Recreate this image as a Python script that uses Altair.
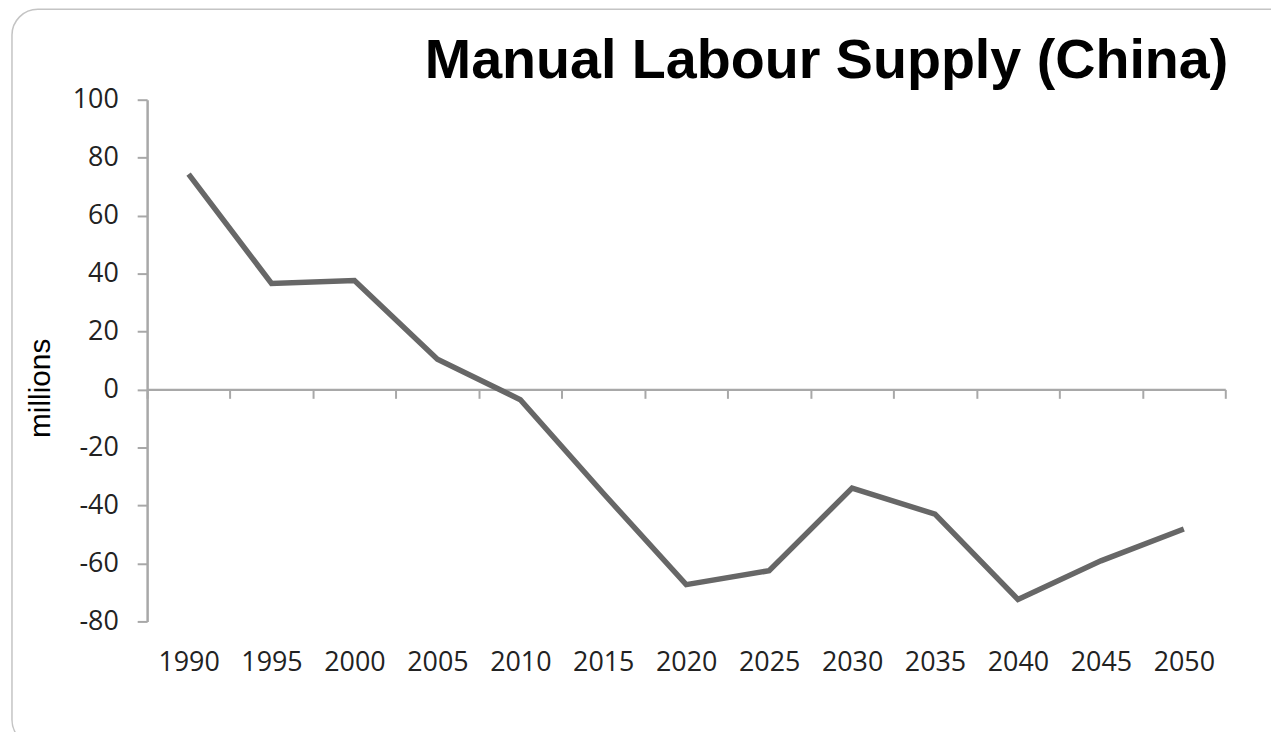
import altair as alt
import pandas as pd

years = [1990, 1995, 2000, 2005, 2010, 2015, 2020, 2025, 2030, 2035, 2040, 2045, 2050]
supply = [74.3, 36.6, 37.6, 10.5, -3.5, -35.8, -67.3, -62.5, -34.0, -43.0, -72.4, -59.1, -48.1]
y_ticks = [-80, -60, -40, -20, 0, 20, 40, 60, 80, 100]
band_edges = [1987.5 + 5 * i for i in range(14)]

df = pd.DataFrame({"year": years, "value": supply})

x_scale = alt.Scale(domain=[1987.5, 2052.5], nice=False, zero=False)
y_scale = alt.Scale(domain=[-80, 100], nice=False)

label_font = "Open Sans"
label_color = "#222222"

line = alt.Chart(df).mark_line(color="#676767", strokeWidth=5.5, strokeJoin="miter").encode(
    x=alt.X("year:Q", scale=x_scale,
            axis=alt.Axis(orient="bottom", values=years, labelExpr="'' + datum.value", title=None,
                          domain=False, ticks=False, grid=False,
                          labelFont=label_font, labelFontSize=27, labelColor=label_color,
                          labelPadding=28, labelFlush=False)),
    y=alt.Y("value:Q", scale=y_scale,
            axis=alt.Axis(values=y_ticks, grid=False, tickSize=10, tickWidth=2,
                          tickColor="#a8a8a8", domainColor="#a8a8a8", domainWidth=2.5,
                          labelExpr="'' + datum.value",
                          labelFont=label_font, labelFontSize=27, labelColor=label_color,
                          labelPadding=19,
                          title="millions", titleFont="Liberation Sans", titleFontSize=30,
                          titleFontWeight="normal", titleColor="#000000",
                          titleAngle=-90, titleX=-107, titleY=290,
                          titleAlign="center", titleBaseline="middle")),
)

zero_axis = alt.Chart(df).mark_point(opacity=0).encode(
    x=alt.X("year:Q", scale=x_scale,
            axis=alt.Axis(orient="bottom", values=band_edges, labels=False, title=None,
                          grid=False, ticks=True, tickSize=9, tickWidth=2,
                          tickColor="#a8a8a8", domainColor="#a8a8a8", domainWidth=2.5,
                          offset=-233.5)),
    y=alt.Y("value:Q", scale=y_scale),
)

frame = alt.Chart(alt.Data(values=[{"f": 1}])).mark_rect(
    fillOpacity=0, stroke="#c4c4c4", strokeWidth=1.5, cornerRadius=26
).encode(
    x=alt.value(-136), x2=alt.value(1160), y=alt.value(-91), y2=alt.value(650)
)

chart = alt.layer(frame, zero_axis, line).resolve_axis(x="independent").properties(
    width=1085,
    height=525,
    autosize=alt.AutoSizeParams(type="none"),
    padding={"left": 140, "top": 90, "right": 46, "bottom": 109},
    title=alt.TitleParams(
        "Manual Labour Supply (China)",
        anchor="end", frame="group", orient="top",
        font="Liberation Sans", fontSize=56, fontWeight="bold", color="#000000",
        baseline="alphabetic", offset=-126, dx=3,
    ),
).configure(background="white").configure_view(stroke=None)

chart.save("out.html", embed_options={"renderer": "svg", "actions": False})
